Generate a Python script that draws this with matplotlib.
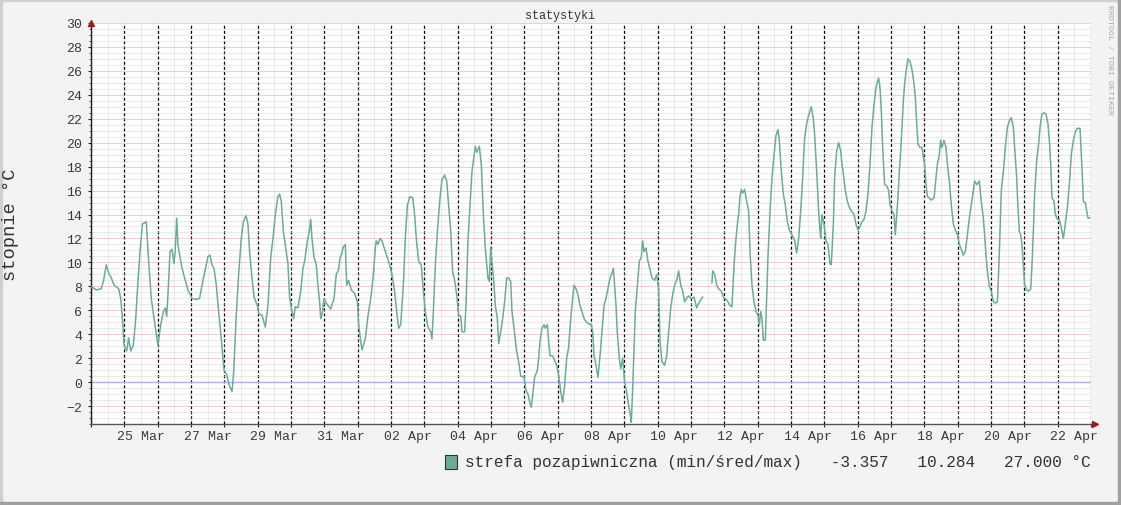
import numpy as np
import matplotlib
matplotlib.use("Agg")
import matplotlib.pyplot as plt
from matplotlib.patches import Rectangle

# --- dane (godziny od 24 Mar 00:00, temperatura w °C) ---
hours = [
    0, 3.8, 7.4, 9.1, 11, 12.7, 14.6, 16.6, 19.9, 21.4, 22.6, 23.8, 25.7, 27.1, 28.6, 30.5,
    32.2, 33.8, 35.5, 37, 39.8, 41.5, 43.4, 45.4, 47.3, 48.2, 50.2, 52.1, 53.5, 54.5, 55.4,
    56.9, 58.3, 59.8, 60.7, 61.7, 62.6, 64.1, 65.8, 67.4, 69.8, 72.7, 75.8, 78.2, 80.6, 82.3,
    84.2, 85.7, 87.1, 88.6, 90.2, 91.9, 93.8, 95.8, 97.7, 99.6, 101.5, 102.7, 104.6, 106.3,
    108.2, 109.7, 111.6, 113, 114.2, 115.9, 117.4, 119.8, 120.7, 123.1, 125.5, 127.4, 129.4,
    131.3, 132.7, 134.6, 135.8, 137, 138.5, 140.9, 141.8, 143, 144.2, 145.9, 147.1, 149, 151,
    152.6, 153.8, 155.8, 157.2, 158.2, 159.1, 160.6, 162.2, 163.4, 164.6, 165.4, 166.8, 167.8,
    169.4, 172.6, 175, 176.6, 178.3, 179.3, 180.2, 181.7, 183.1, 184.1, 185.5, 187.4, 189.8,
    191.8, 192.7, 194.2, 195.1, 197.5, 199.4, 201.8, 203.3, 204.7, 205.4, 206.6, 208.1, 209.5,
    211.4, 213.4, 215.0, 216.7, 218.6, 220.1, 221.5, 223, 224.9, 226.3, 227.8, 229.7, 231.6,
    233, 234.2, 235.9, 237.8, 239.3, 240.7, 242.6, 244.6, 245.5, 246.5, 247.9, 249.8, 251.3,
    252.7, 254.6, 256.1, 257.5, 259, 260.4, 261.8, 263.3, 264.7, 266.2, 267.1, 269, 270, 271.4,
    272.9, 274.3, 275.8, 276.7, 277.7, 279.6, 281, 282.5, 283.9, 285.8, 286.8, 287.8, 288.7,
    290.2, 291.1, 292.6, 293.5, 295, 296.4, 297.8, 299.3, 300.7, 302.2, 303.1, 304.6, 306.2,
    307.9, 309.4, 311.8, 313.2, 314.6, 316.1, 317, 318, 319.4, 321.4, 322.3, 323.3, 324.7,
    326.2, 327.1, 328.6, 329.5, 330.5, 332.4, 333.8, 335.3, 336.7, 338.2, 339.6, 341, 342.5,
    343.9, 345.4, 346.8, 347.8, 349.2, 350.6, 352.1, 353.5, 355.4, 357.8, 360.2, 361.2, 362.2,
    363.6, 365, 366.5, 367.9, 369.4, 370.8, 372.2, 373.7, 375.1, 376.1, 377, 378, 378.9, 380.4,
    381.4, 382.8, 384.2, 385.7, 387.1, 388.6, 389.0, 390, 390.9, 391.9, 393.4, 394.8, 396.2,
    397.2, 398.2, 399.6, 401, 402.5, 403.9, 405.8, 407.3, 408.7, 409.7, 411.1, 413, 414.5,
    415.9, 417.4, 418.8, 420.2, 421.7, 423.1, 424.6, 426, 427.4, 428.9, 430.3, 432.2, 434.2,
    436.1, 438, 440.4, 441, 447.1, 447.6, 449, 450.5, 451.9, 453.8, 455.3, 457.2, 458.6, 460.1,
    461.5, 462.5, 463.4, 464.4, 465.4, 466.3, 467.3, 468.2, 469.2, 470.6, 472.1, 473.5, 474.5,
    475.9, 477.4, 478.8, 480.2, 481.2, 482.2, 483.1, 484.1, 485.5, 486.5, 487.4, 488.9, 490.3,
    491.8, 493.2, 494.6, 495.6, 497, 498.5, 499.9, 501.4, 502.8, 504.7, 506.6, 508.1, 509.5,
    511, 512.4, 513.8, 515.3, 516.7, 518.6, 520.1, 521, 522.5, 523.9, 524.9, 525.4, 526.3,
    527.8, 529.2, 530.6, 532.1, 533, 534.5, 535.4, 536.9, 538.3, 539.8, 540.7, 541.7, 543.1,
    544.6, 546, 547.4, 549.4, 550.8, 552.2, 553.7, 555.1, 556.6, 558, 559.4, 560.9, 562.3,
    563.8, 565.2, 566.2, 567.1, 568.1, 569, 570, 571.4, 572.9, 574.3, 575.3, 576.7, 578.2,
    579.1, 580.1, 581, 582, 583, 583.9, 584.9, 585.8, 587, 588.2, 589.7, 591.1, 592.6, 593.5,
    594.5, 595.4, 596.9, 598.3, 599.3, 600.2, 601.2, 602.2, 603.6, 605, 607, 607.9, 609.4,
    610.8, 611.8, 612.7, 614.2, 615.6, 616.6, 618, 619.4, 620.9, 622.3, 623.8, 625.2, 626.6,
    628.1, 629.5, 631, 632.4, 633.8, 635.3, 636.2, 637.7, 639.6, 641, 642.5, 643.4, 644.4,
    645.4, 646.8, 648.2, 649.7, 651.1, 652.6, 653.5, 654.5, 655.4, 656.9, 658.3, 659.8, 661.2,
    662.6, 664.1, 665, 666.5, 667.4, 668.4, 669.4, 670.3, 671.3, 672.2, 673.7, 675.1, 676.6,
    677.5, 678.5, 679.4, 680.9, 682.3, 683.3, 684.7, 686.2, 687.6, 689, 690, 691, 691.9, 693.4,
    694.3, 695.8, 697.2, 698.6, 700.1, 701.5, 703, 704.4, 705.8, 707.3, 708.7, 710.2, 712.1,
    713.5, 714.5, 715.9, 716.9, 717.8, 718.8,
]
temps = [
    8.0, 7.7, 7.8, 8.5, 9.8, 9.1, 8.7, 8.1, 7.8, 7.0, 5.3, 3.1, 2.6, 3.7, 2.6, 3.1,
    5.3, 8.4, 11.2, 13.2, 13.4, 10.1, 7.0, 5.3, 3.8, 3.1, 4.8, 5.9, 6.2, 5.5, 7.3,
    10.9, 11.1, 9.9, 11.1, 13.7, 11.5, 10.4, 9.4, 8.7, 7.7, 7.0, 6.9, 7.0, 8.5, 9.4,
    10.5, 10.6, 9.8, 9.5, 8.1, 5.9, 3.6, 1.0, 0.6, -0.3, -0.8, 0.8, 5.6, 9.0,
    12.0, 13.4, 13.9, 13.2, 10.9, 8.7, 7.1, 6.4, 5.7, 5.6, 4.6, 6.4, 10.4,
    12.3, 14.0, 15.5, 15.7, 15.1, 12.6, 10.6, 9.9, 7.0, 6.2, 5.3, 6.3, 6.2, 7.6,
    9.5, 10.1, 11.8, 12.6, 13.6, 12.0, 10.4, 9.8, 8.1, 6.7, 5.3, 5.9, 7.0,
    6.6, 6.1, 7.0, 9.0, 9.4, 10.4, 10.6, 11.3, 11.5, 8.1, 8.5, 7.7, 7.4,
    6.7, 4.8, 3.4, 2.7, 3.6, 5.5, 7.3, 9.0, 11.2, 11.8, 11.5, 12.0, 11.8,
    11.1, 10.4, 9.8, 9.0, 7.6, 5.9, 4.5, 4.8, 8.1, 12.0, 14.8, 15.5, 15.4,
    14.0, 12.0, 10.1, 9.8, 7.6, 5.9, 4.6, 4.2, 3.6, 5.9, 9.8, 13.2, 15.4,
    16.9, 17.3, 16.8, 14.8, 12.6, 9.2, 8.5, 7.3, 5.6, 5.5, 4.2, 4.2, 6.4, 11.8,
    14.8, 17.6, 18.9, 19.7, 19.2, 19.7, 18.2, 14.0, 11.2, 8.7, 8.4, 11.3, 10.1,
    8.1, 6.4, 5.3, 3.2, 4.2, 5.3, 6.7, 8.7, 8.7, 8.4, 5.9, 4.5, 2.8,
    1.7, 0.5, 0.4, -0.7, -1.0, -1.8, -2.1, -1.1, 0.4, 1.0, 2.0, 3.4, 4.5,
    4.8, 4.5, 4.8, 3.4, 2.2, 2.2, 1.8, 1.4, 0.6, -0.8, -1.7, -0.3, 2.0,
    2.9, 5.3, 7.0, 8.1, 7.8, 7.3, 6.4, 5.9, 5.2, 4.9, 4.8, 4.2, 2.2,
    1.4, 0.4, 2.2, 4.2, 6.4, 7.0, 7.8, 8.7, 9.1, 9.5, 8.1, 6.4, 4.2, 2.0,
    1.1, 2.0, 0.0, -0.8, -2.0, -2.9, -3.36, -0.6, 2.5, 5.9, 8.1, 10.1, 10.4,
    11.8, 10.9, 11.2, 10.1, 9.4, 8.7, 8.5, 9.0, 7.8, 3.4, 1.7, 1.4, 2.2,
    4.2, 6.2, 7.3, 8.1, 8.5, 9.3, 8.1, 7.6, 6.7, 7.0, 7.2, 7.0, 7.1,
    6.2, 6.7, 7.1, np.nan, 8.3, 9.3, 9.0, 8.1, 7.8, 7.6, 7.1, 6.9, 6.7, 6.4,
    6.3, 8.7, 10.5, 12.0, 13.2, 14.0, 15.5, 16.1, 15.8, 16.1, 15.1, 14.3, 10.9,
    8.1, 6.7, 5.9, 5.6, 4.8, 5.9, 5.3, 3.5, 3.5, 7.0, 10.4, 14.3, 17.1,
    19.0, 20.6, 21.1, 20.2, 17.6, 15.7, 14.8, 13.4, 12.7, 12.3, 11.8, 10.8, 12.0,
    14.3, 17.1, 20.4, 21.6, 22.3, 23.0, 22.0, 20.7, 17.6, 14.3, 12.6, 12.0, 14.0,
    13.2, 11.8, 11.5, 9.9, 9.8, 13.2, 17.1, 19.3, 20.0, 19.3, 18.2, 17.4, 16.0,
    15.1, 14.6, 14.3, 14.0, 13.2, 12.7, 13.0, 13.4, 13.6, 14.3, 15.7, 18.2, 21.3,
    23.2, 24.6, 25.1, 25.4, 24.6, 22.7, 19.6, 16.5, 16.4, 16.0, 14.8, 14.3, 14.0,
    12.3, 14.0, 15.4, 17.6, 19.3, 21.3, 23.5, 24.9, 26.1, 27.0, 26.8, 26.1, 24.9, 23.8,
    21.6, 19.9, 19.6, 19.6, 18.8, 18.2, 16.5, 15.5, 15.4, 15.2, 15.4, 16.5, 18.2,
    19.0, 20.2, 19.6, 20.2, 19.6, 18.2, 16.8, 14.8, 13.2, 12.7, 12.3, 11.5, 11.1,
    10.6, 10.9, 12.3, 13.7, 14.8, 16.0, 16.8, 16.5, 16.8, 15.1, 13.7, 12.3, 10.6,
    9.2, 8.0, 7.6, 6.7, 6.6, 6.7, 9.2, 12.6, 16.0, 17.6, 19.6, 21.3, 21.8,
    22.1, 21.3, 19.6, 17.1, 14.6, 12.6, 12.3, 11.5, 9.8, 8.1, 7.7, 7.6, 7.8,
    9.8, 12.6, 15.7, 18.5, 19.9, 21.3, 22.4, 22.5, 22.4, 21.6, 20.2, 18.2, 15.4, 15.1,
    14.0, 13.6, 13.6, 12.9, 12.0, 13.2, 14.6, 16.5, 19.0, 20.2, 20.9, 21.2, 21.2,
    17.9, 15.1, 15.0, 14.3, 13.7, 13.7,
]

x_labels = ['25 Mar', '27 Mar', '29 Mar', '31 Mar', '02 Apr', '04 Apr', '06 Apr', '08 Apr',
            '10 Apr', '12 Apr', '14 Apr', '16 Apr', '18 Apr', '20 Apr', '22 Apr']
n_days = 30
series_name = 'strefa pozapiwniczna'
stats = [-3.357, 10.284, 27.000]   # min / śred / max z legendy

W, H = 1121, 506
line_col = '#6aab9c'

plt.rcParams['font.family'] = ['Liberation Mono', 'DejaVu Sans Mono']
plt.rcParams['lines.scale_dashes'] = False

fig = plt.figure(figsize=(W / 100, H / 100), dpi=100, facecolor='#f3f3f3')
ax = fig.add_axes([91 / W, 1 - 425 / H, 1000 / W, 401 / H])
ax.set_facecolor('white')

ax.plot(hours, temps, color=line_col, lw=1.1, zorder=3)
ax.axhline(0, color='#b0b0f0', lw=1.0, zorder=2)

ax.set_xlim(0, n_days * 24)
ax.set_ylim(-3.5, 30)

# siatka
ax.set_xticks(np.arange(0, n_days * 24 + 1, 24))
ax.set_xticklabels([''] * (n_days + 1))
noon = np.arange(12, n_days * 24, 24)
minor_lbl = [''] * len(noon)
for k, lab in enumerate(x_labels):
    minor_lbl[1 + 2 * k] = lab
ax.set_xticks(noon, minor=True)
ax.set_xticklabels(minor_lbl, minor=True)
ax.set_yticks(np.arange(-2, 31, 2))
ax.set_yticks(np.arange(-3.5, 30.01, 0.5), minor=True)

dot = (0, (0.72, 0.72))
ax.grid(axis='y', which='minor', color='#d6d6d6', linestyle=dot, lw=0.72)
ax.grid(axis='y', which='major', color='#e4a0a0', linestyle=dot, lw=0.72)
ax.grid(axis='x', which='minor', color='#d6d6d6', linestyle=dot, lw=0.72)
ax.grid(axis='x', which='major', color='black', linestyle=(0, (2.2, 1.5)), lw=0.9)
ax.set_axisbelow(True)

for s in ['top', 'right']:
    ax.spines[s].set_visible(False)
ax.spines['left'].set_color('#222222')
ax.spines['bottom'].set_color('#555555')
ax.spines['left'].set_linewidth(1.0)
ax.spines['bottom'].set_linewidth(1.0)

ax.tick_params(axis='y', which='major', length=2.5, width=0.8, color='#222222',
               labelsize=9.5, labelcolor='#3a3a3a', pad=4)
ax.tick_params(axis='y', which='minor', length=1.5, width=0.6, color='#444444')
ax.tick_params(axis='x', which='major', length=2.5, width=0.8, color='#222222')
ax.tick_params(axis='x', which='minor', length=0, labelsize=9.5,
               labelcolor='#3a3a3a', pad=4)

# strzałki osi
ax.plot([0], [1.0], marker='^', color='#9b1c1c', ms=5, transform=ax.transAxes,
        clip_on=False, zorder=5)
ax.plot([1.004], [0], marker='>', color='#9b1c1c', ms=5, transform=ax.transAxes,
        clip_on=False, zorder=5)

# teksty
fig.text(0.5, 1 - 16 / H, 'statystyki', ha='center', va='center', size=8.5, color='#333333')
fig.text(11 / W, 1 - 225 / H, 'stopnie °C', rotation=90, ha='center', va='center',
         size=13.5, color='#333333')
fig.text(1110 / W, 1 - 60 / H, 'RRDTOOL / TOBI OETIKER', rotation=270, ha='center',
         va='center', size=6, color='#a8a8a8')

legend_txt = '%s (min/śred/max)   %.3f   %.3f   %.3f °C' % (series_name, stats[0], stats[1], stats[2])
fig.patches.append(Rectangle((445 / W, 1 - 470 / H), 12 / W, 14 / H, transform=fig.transFigure,
                             facecolor=line_col, edgecolor='#333333', lw=0.8))
fig.text(465 / W, 1 - 463 / H, legend_txt, ha='left', va='center', size=11.6, color='#333333')

# ramka
fig.patches.append(Rectangle((0, 1 - 2 / H), 1, 2 / H, transform=fig.transFigure, color='#d0d0d0'))
fig.patches.append(Rectangle((0, 0), 2 / W, 1, transform=fig.transFigure, color='#d0d0d0'))
fig.patches.append(Rectangle((0, 0), 1, 3 / H, transform=fig.transFigure, color='#a0a0a0'))
fig.patches.append(Rectangle((1 - 3 / W, 0), 3 / W, 1, transform=fig.transFigure, color='#a0a0a0'))

fig.savefig('out.png', dpi=100, facecolor=fig.get_facecolor())
